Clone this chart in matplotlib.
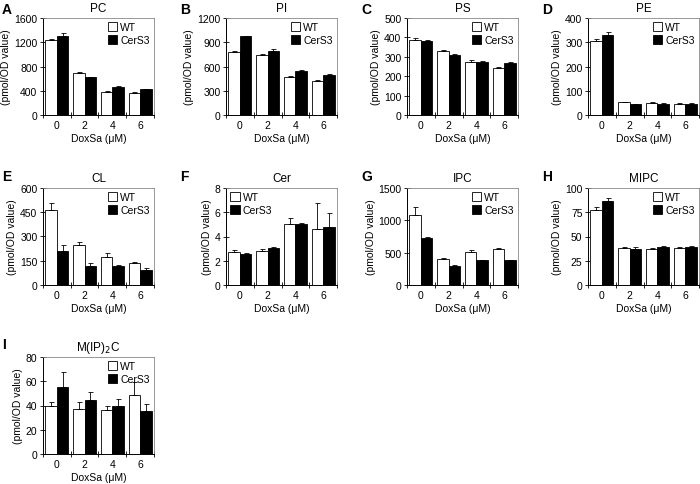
import matplotlib
matplotlib.use("Agg")
import matplotlib.pyplot as plt
import numpy as np
from matplotlib.patches import Patch

plt.rcParams['font.family'] = ['Liberation Sans', 'DejaVu Sans']

doses = ["0", "2", "4", "6"]

titles = ["PC", "PI", "PS", "PE", "CL", "Cer", "IPC", "MIPC", "M(IP)$_2$C"]
letters = ["A", "B", "C", "D", "E", "F", "G", "H", "I"]

wt_pc = [1240, 690, 385, 365]; wt_pc_err = [10, 15, 12, 10]
cer_pc = [1300, 620, 470, 425]; cer_pc_err = [60, 10, 8, 5]
wt_pi = [775, 745, 470, 415]; wt_pi_err = [15, 5, 10, 15]
cer_pi = [975, 795, 550, 495]; cer_pi_err = [5, 20, 5, 15]
wt_ps = [385, 330, 275, 242]; wt_ps_err = [12, 5, 8, 5]
cer_ps = [383, 308, 273, 268]; cer_ps_err = [5, 5, 5, 5]
wt_pe = [305, 52, 50, 47]; wt_pe_err = [8, 2, 3, 3]
cer_pe = [328, 45, 46, 47]; cer_pe_err = [15, 2, 2, 2]
wt_cl = [465, 250, 175, 135]; wt_cl_err = [45, 15, 20, 10]
cer_cl = [210, 115, 115, 95]; cer_cl_err = [35, 20, 10, 10]
wt_cer = [2.75, 2.8, 5.0, 4.6]; wt_cer_err = [0.1, 0.2, 0.55, 2.15]
cer_cer = [2.55, 3.05, 5.05, 4.75]; cer_cer_err = [0.05, 0.1, 0.1, 1.15]
wt_ipc = [1080, 400, 515, 560]; wt_ipc_err = [130, 10, 20, 15]
cer_ipc = [720, 295, 380, 385]; cer_ipc_err = [25, 10, 10, 5]
wt_mipc = [77, 38, 37, 38.5]; wt_mipc_err = [3, 1, 1.5, 0.8]
cer_mipc = [87, 37, 39, 39]; cer_mipc_err = [3, 2.5, 1, 0.8]
wt_mip2c = [40, 37.5, 36, 48.5]; wt_mip2c_err = [3, 5, 4, 10.5]
cer_mip2c = [55, 44.5, 40, 35.5]; cer_mip2c_err = [12.5, 6.5, 5, 6]

wt_all = [wt_pc, wt_pi, wt_ps, wt_pe, wt_cl, wt_cer, wt_ipc, wt_mipc, wt_mip2c]
wt_err_all = [wt_pc_err, wt_pi_err, wt_ps_err, wt_pe_err, wt_cl_err, wt_cer_err,
              wt_ipc_err, wt_mipc_err, wt_mip2c_err]
cer_all = [cer_pc, cer_pi, cer_ps, cer_pe, cer_cl, cer_cer, cer_ipc, cer_mipc, cer_mip2c]
cer_err_all = [cer_pc_err, cer_pi_err, cer_ps_err, cer_pe_err, cer_cl_err, cer_cer_err,
               cer_ipc_err, cer_mipc_err, cer_mip2c_err]
ymax = [1600, 1200, 500, 400, 600, 8, 1500, 100, 80]
ystep = [400, 300, 100, 100, 150, 2, 500, 25, 20]
legend_left = [False, False, False, False, False, True, False, False, False]

W, H = 700, 485
fig = plt.figure(figsize=(7, 4.85), dpi=100)

col_left = [43, 226, 407, 588]
row_top = [19, 189, 358]
aw, ah = 111, 97

for k in range(9):
    r, c = divmod(k, 4)
    x0 = col_left[c]
    y0 = row_top[r]
    ax = fig.add_axes([x0 / W, 1 - (y0 + ah) / H, aw / W, ah / H])
    x = np.arange(4)
    bw = 0.41
    ax.bar(x - bw / 2, wt_all[k], bw, color='white', edgecolor='black', linewidth=0.6,
           yerr=[np.zeros(4), wt_err_all[k]], error_kw=dict(ecolor='black', elinewidth=0.6,
                                                          capsize=1.8, capthick=0.6),
           zorder=2)
    ax.bar(x + bw / 2, cer_all[k], bw, color='black', edgecolor='black', linewidth=0.6,
           yerr=[np.zeros(4), cer_err_all[k]], error_kw=dict(ecolor='black', elinewidth=0.6,
                                                           capsize=1.8, capthick=0.6),
           zorder=2)
    ax.set_xlim(-0.5, 3.5)
    ax.set_ylim(0, ymax[k])
    ax.set_yticks(np.arange(0, ymax[k] + ystep[k] / 2, ystep[k]))
    ax.set_xticks(np.arange(-0.5, 4, 1))
    ax.set_xticklabels([])
    ax.set_xticks(x, minor=True)
    ax.set_xticklabels(doses, minor=True)
    ax.tick_params(axis='x', which='major', direction='inout', length=5, width=0.6)
    ax.tick_params(axis='x', which='minor', length=0, labelsize=7.5, pad=3.5)
    ax.tick_params(axis='y', direction='inout', length=4, width=0.6, labelsize=7.5, pad=2)
    for s in ['left', 'bottom']:
        ax.spines[s].set_linewidth(0.7)
        ax.spines[s].set_color('black')
    for s in ['top', 'right']:
        ax.spines[s].set_linewidth(0.6)
        ax.spines[s].set_color('#888888')
    ax.set_title(titles[k], fontsize=8.5, pad=5)
    ax.set_ylabel('(pmol/OD value)', fontsize=7.5, labelpad=2)
    ax.set_xlabel('DoxSa (\u03bcM)', fontsize=7.5, labelpad=2.5)
    handles = [Patch(facecolor='white', edgecolor='black', linewidth=0.6, label='WT'),
               Patch(facecolor='black', edgecolor='black', linewidth=0.6, label='CerS3')]
    loc = 'upper left' if legend_left[k] else 'upper right'
    ax.legend(handles=handles, loc=loc, frameon=False, fontsize=7.5, handlelength=0.9,
              handleheight=0.9, handletextpad=0.3, labelspacing=0.25, borderaxespad=0.2,
              borderpad=0.2)
    # panel letter
    lx = [2, 180, 361, 542][c]
    ly = [10, 177, 345][r]
    fig.text(lx / W, 1 - ly / H, letters[k], fontsize=10, fontweight='bold',
             ha='left', va='center')

fig.savefig('out.png', dpi=100)
